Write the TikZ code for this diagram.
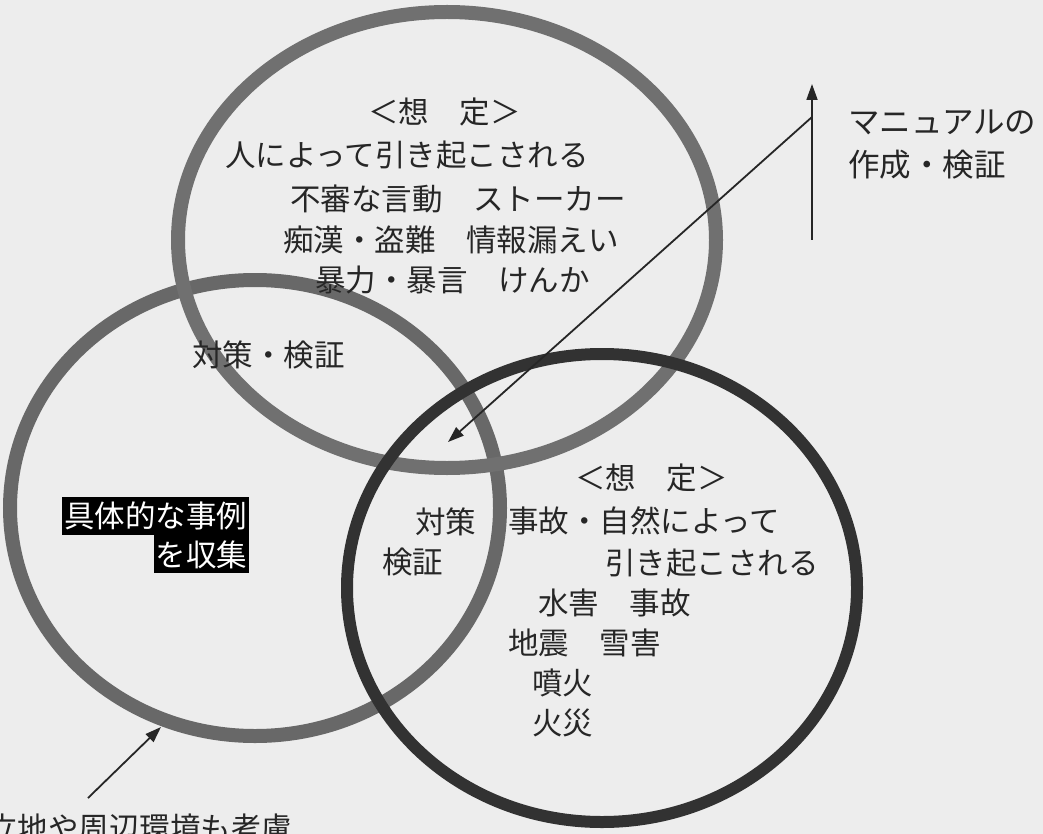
\documentclass[tikz,border=0pt]{standalone}
\usepackage{fontspec}
\setmainfont{Noto Sans CJK JP}
\usetikzlibrary{arrows.meta}
\definecolor{bg}{RGB}{237,237,237}
\definecolor{ringA}{RGB}{112,112,112}
\definecolor{ringB}{RGB}{104,104,104}
\definecolor{ringC}{RGB}{50,50,50}
\begin{document}
\begin{tikzpicture}[x=1pt,y=-1pt,
  txt/.style={inner sep=0pt,anchor=west,font=\fontsize{30.5}{32}\selectfont,text=black!85},
  big/.style={txt,font=\fontsize{31.5}{33}\selectfont},
  ring/.style={line width=14pt},
  conn/.style={line width=1.8pt,black!85,-{Triangle[length=16pt,width=11pt]}},
  inv/.style={fill=black,text=white,inner xsep=2pt,inner ysep=0pt,minimum height=38pt,font=\fontsize{30.5}{32}\selectfont}]
\fill[bg] (0,0) rectangle (1043,834);
\useasboundingbox (0,0) rectangle (1043,834);
% rings
\draw[ring,ringB] (255,508) ellipse [x radius=245pt, y radius=228pt];
\draw[ring,ringA] (447,240) ellipse [x radius=269pt, y radius=228pt];
\draw[ring,ringC,line width=12pt] (602,588) ellipse [x radius=255pt, y radius=234pt];
% top circle text
\node[txt] (t1) at (368,112) {＜想　定＞};
\node[txt] (t2) at (225,155) {人によって引き起こされる};
\node[txt] (t3) at (290,199) {不審な言動　ストーカー};
\node[txt] (t4) at (283,240) {痴漢・盗難　情報漏えい};
\node[txt] (t5) at (315,280) {暴力・暴言　けんか};
\node[txt] (t6) at (192,355) {対策・検証};
% left circle
\node[inv,anchor=west] (l1) at (62,516) {具体的な事例};
\node[inv,anchor=north east] (l2) at (l1.south east) {を収集};
% right circle
\node[txt] (r1) at (575,478) {＜想　定＞};
\node[txt] (r2) at (508,521) {事故・自然によって};
\node[txt] (r3) at (605,563) {引き起こされる};
\node[txt] (r4) at (538,603) {水害　事故};
\node[txt] (r5) at (508,643) {地震　雪害};
\node[txt] (r6) at (532,683) {噴火};
\node[txt] (r7) at (532,723) {火災};
\node[txt] (c1) at (415,522) {対策};
\node[txt] (c2) at (382,562) {検証};
% right text
\node[big] (m1) at (848,122) {マニュアルの};
\node[big] (m2) at (848,165) {作成・検証};
% bottom text
\node[txt] (b1) at (-13,828) {立地や周辺環境も考慮};
% connectors
\coordinate (vbot) at (812,240);
\coordinate (vtop) at (812,84);
\coordinate (junc) at (812,117);
\coordinate (dend) at (448,442);
\coordinate (bstart) at (88,798);
\coordinate (bend) at (161,727);
\draw[conn] (vbot) -- (vtop);
\draw[conn] (junc) -- (dend);
\draw[conn] (bstart) -- (bend);
\end{tikzpicture}
\end{document}
